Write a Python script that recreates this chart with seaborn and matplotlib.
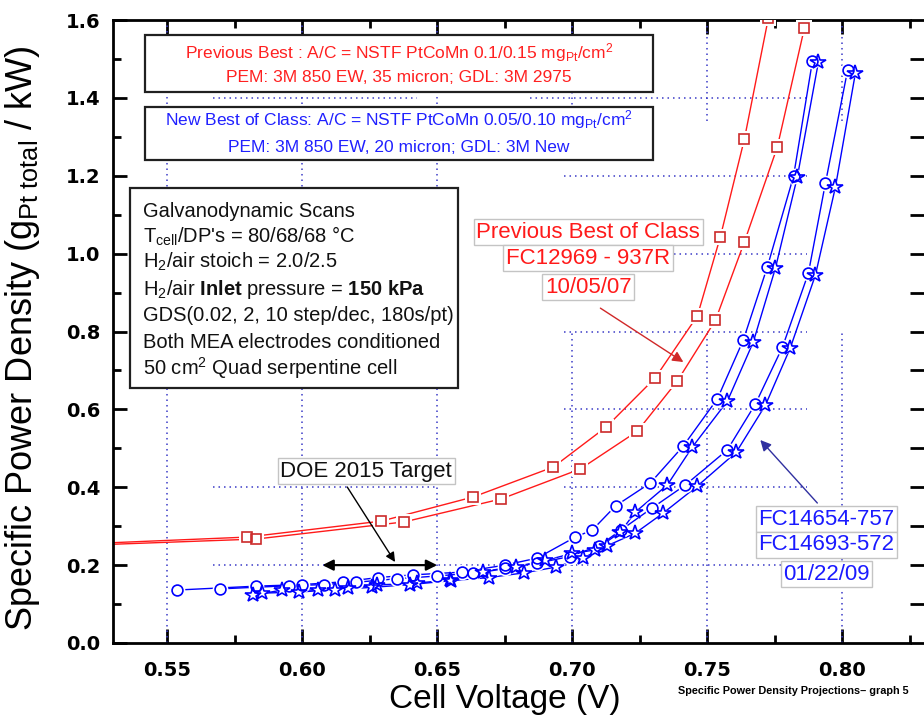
import matplotlib
matplotlib.use("Agg")
import matplotlib.pyplot as plt
import seaborn as sns
from matplotlib.patches import Rectangle
from matplotlib.ticker import MultipleLocator, FixedLocator

# ---- data -------------------------------------------------------------
# Previous best of class, FC12969-937R (two scans)
prev1_v = [0.500, 0.5796, 0.6293, 0.6633, 0.6930, 0.7126, 0.7307, 0.7463, 0.7548, 0.7637, 0.7726]
prev1_y = [0.249, 0.272, 0.313, 0.375, 0.452, 0.555, 0.681, 0.840, 1.043, 1.294, 1.606]
prev2_v = [0.500, 0.5830, 0.6378, 0.6737, 0.7030, 0.7241, 0.7389, 0.7530, 0.7637, 0.7759, 0.7859]
prev2_y = [0.246, 0.267, 0.311, 0.370, 0.447, 0.544, 0.673, 0.829, 1.030, 1.274, 1.579]

# New best of class, FC14654-757 (circles / stars)
new1c_v = [0.5537, 0.5830, 0.6000, 0.6150, 0.6280, 0.6410, 0.6590, 0.6750, 0.6870, 0.7011,
           0.7074, 0.7160, 0.7289, 0.7411, 0.7537, 0.7633, 0.7722, 0.7819, 0.7889]
new1c_y = [0.136, 0.146, 0.150, 0.157, 0.168, 0.175, 0.182, 0.200, 0.218, 0.272,
           0.290, 0.352, 0.411, 0.506, 0.627, 0.778, 0.966, 1.199, 1.495]
new1s_v = [0.5820, 0.5926, 0.6060, 0.6170, 0.6278, 0.6426, 0.6548, 0.6670, 0.6790, 0.6900,
           0.7000, 0.7085, 0.7178, 0.7233, 0.7352, 0.7444, 0.7574, 0.7670, 0.7752, 0.7833, 0.7911]
new1s_y = [0.123, 0.136, 0.136, 0.141, 0.149, 0.154, 0.162, 0.182, 0.196, 0.212,
           0.230, 0.239, 0.285, 0.336, 0.406, 0.503, 0.621, 0.773, 0.963, 1.197, 1.492]

# New best of class, FC14693-572 (circles / stars)
new2c_v = [0.5696, 0.5950, 0.6080, 0.6200, 0.6350, 0.6500, 0.6633, 0.6750, 0.6870, 0.6990,
           0.7100, 0.7180, 0.7296, 0.7419, 0.7574, 0.7678, 0.7778, 0.7874, 0.7937, 0.8019]
new2c_y = [0.139, 0.147, 0.150, 0.156, 0.165, 0.172, 0.180, 0.192, 0.205, 0.222,
           0.250, 0.290, 0.347, 0.406, 0.496, 0.614, 0.760, 0.950, 1.181, 1.471]
new2s_v = [0.5850, 0.5990, 0.6120, 0.6260, 0.6400, 0.6550, 0.6690, 0.6820, 0.6940, 0.7040,
           0.7130, 0.7233, 0.7337, 0.7463, 0.7607, 0.7715, 0.7807, 0.7900, 0.7974, 0.8048]
new2s_y = [0.128, 0.131, 0.137, 0.143, 0.150, 0.160, 0.168, 0.180, 0.195, 0.218,
           0.250, 0.282, 0.334, 0.403, 0.490, 0.611, 0.758, 0.945, 1.171, 1.464]

x_ticks = [0.55, 0.60, 0.65, 0.70, 0.75, 0.80]
x_tick_labels = ["0.55", "0.60", "0.65", "0.70", "0.75", "0.80"]
y_ticks = [0.0, 0.2, 0.4, 0.6, 0.8, 1.0, 1.2, 1.4, 1.6]
y_tick_labels = ["0.0", "0.2", "0.4", "0.6", "0.8", "1.0", "1.2", "1.4", "1.6"]

doe_target_y = 0.2
doe_target_v = (0.6075, 0.650)

# ---- style ------------------------------------------------------------
sns.set_theme(style="white")
plt.rcParams["font.family"] = ["Liberation Sans", "DejaVu Sans"]
plt.rcParams["mathtext.fontset"] = "custom"
plt.rcParams["mathtext.rm"] = "Liberation Sans"
plt.rcParams["mathtext.bf"] = "Liberation Sans:bold"
plt.rcParams["mathtext.it"] = "Liberation Sans:italic"
plt.rcParams["mathtext.default"] = "regular"

RED_LINE = "#ff1a1a"
RED_MARK = "#cc2a2a"
BLUE = "#0000ff"
GRID = "#3c3cc8"

fig = plt.figure(figsize=(9.24, 7.19), dpi=100)
ax = fig.add_axes([113 / 924, 1 - 643 / 719, (910 - 113) / 924, (643 - 20) / 719])
ax.set_facecolor("white")

ax.set_xlim(0.53, 0.825)
ax.set_ylim(0.0, 1.6)

# dotted grid segments
gdot = dict(color=GRID, lw=1.1, linestyle=(0, (1, 2.6)), zorder=1)
for xv in (0.55, 0.60, 0.65):
    ax.vlines(xv, 0.0, 1.6, **gdot)
for xv in (0.70, 0.75, 0.80):
    ax.vlines(xv, 0.0, 0.80, **gdot)
    ax.vlines(xv, 1.34, 1.6, **gdot)
ax.hlines(1.4, 0.567, 0.6425, **gdot)
ax.hlines(1.4, 0.6844, 0.787, **gdot)
for yv in (0.6, 0.8, 1.0, 1.2):
    ax.hlines(yv, 0.697, 0.787, **gdot)
ax.hlines(0.4, 0.567, 0.650, **gdot)
ax.hlines(0.4, 0.697, 0.787, **gdot)
ax.hlines(0.2, 0.567, 0.780, **gdot)

series = [
    (prev1_v, prev1_y, RED_LINE, RED_MARK, "s", 7.5),
    (prev2_v, prev2_y, RED_LINE, RED_MARK, "s", 7.5),
    (new1c_v, new1c_y, BLUE, BLUE, "o", 7.8),
    (new1s_v, new1s_y, BLUE, BLUE, "*", 11.5),
    (new2c_v, new2c_y, BLUE, BLUE, "o", 7.8),
    (new2s_v, new2s_y, BLUE, BLUE, "*", 11.5),
]

# connecting lines
for v, y, lc, mc, mk, ms in series:
    sns.lineplot(x=v, y=y, color=lc, lw=1.0, sort=False, estimator=None,
                 ax=ax, zorder=2)
# white halos break the lines around each symbol
for v, y, lc, mc, mk, ms in series:
    sns.lineplot(x=v, y=y, color="white", linestyle="none", marker=mk,
                 markersize=ms + 3.5, markerfacecolor="white",
                 markeredgecolor="white", markeredgewidth=0,
                 sort=False, estimator=None, ax=ax, zorder=3)
# open symbols
for v, y, lc, mc, mk, ms in series:
    sns.lineplot(x=v, y=y, color=mc, linestyle="none", marker=mk,
                 markersize=ms, markerfacecolor="none",
                 markeredgecolor=mc, markeredgewidth=1.2,
                 sort=False, estimator=None, ax=ax, zorder=4)

# ---- axes decoration --------------------------------------------------
ax.xaxis.set_major_locator(FixedLocator(x_ticks))
ax.set_xticklabels(x_tick_labels)
ax.yaxis.set_major_locator(FixedLocator(y_ticks))
ax.set_yticklabels(y_tick_labels)
ax.xaxis.set_minor_locator(MultipleLocator(0.025))
ax.yaxis.set_minor_locator(MultipleLocator(0.1))
ax.tick_params(which="both", direction="in", top=True, right=False,
               bottom=True, left=True, width=2, color="black")
ax.tick_params(which="major", length=10)
ax.tick_params(which="minor", length=6)
ax.tick_params(axis="x", which="major", pad=13)
ax.tick_params(axis="y", which="major", pad=9)
for lab in ax.get_xticklabels() + ax.get_yticklabels():
    lab.set_family("DejaVu Sans")
    lab.set_fontweight("bold")
    lab.set_fontsize(14)
    lab.set_color("black")

for side in ("left", "bottom", "top"):
    ax.spines[side].set_linewidth(2)
    ax.spines[side].set_color("black")
ax.spines["right"].set_visible(False)

# right-hand tick marks without a spine line
sec = ax.secondary_yaxis("right")
sec.yaxis.set_major_locator(FixedLocator(y_ticks))
sec.yaxis.set_minor_locator(MultipleLocator(0.1))
sec.tick_params(which="both", direction="out", width=2, color="black",
                labelright=False)
sec.tick_params(which="major", length=13)
sec.tick_params(which="minor", length=11)
sec.spines["right"].set_visible(False)

ax.set_xlabel("Cell Voltage (V)", fontsize=24, color="black", va="top")
ax.xaxis.set_label_coords(0.492, -0.066)
ax.set_ylabel(r"Specific Power Density (g$_{Pt\ total}$ / kW)", fontsize=26,
              color="black")
ax.yaxis.set_label_coords(-0.089, 0.49)

# ---- information boxes ------------------------------------------------
def frame(x0, y0, x1, y1, ec="#202020", lw=1.6):
    ax.add_patch(Rectangle((x0, y0), x1 - x0, y1 - y0, transform=ax.transAxes,
                           facecolor="white", edgecolor=ec, lw=lw, zorder=6,
                           clip_on=False))

frame(0.0402, 0.8844, 0.6775, 0.9759)
ax.text(0.3588, 0.947, r"Previous Best : A/C = NSTF PtCoMn 0.1/0.15 mg$_{Pt}$/cm$^2$",
        transform=ax.transAxes, ha="center", va="center", fontsize=12.5,
        color="#ff2020", zorder=7)
ax.text(0.3588, 0.9085, "PEM: 3M 850 EW, 35 micron; GDL: 3M 2975",
        transform=ax.transAxes, ha="center", va="center", fontsize=12.5,
        color="#ff2020", zorder=7)

frame(0.0402, 0.7753, 0.6775, 0.8604)
ax.text(0.3588, 0.8395, r"New Best of Class: A/C = NSTF PtCoMn 0.05/0.10 mg$_{Pt}$/cm$^2$",
        transform=ax.transAxes, ha="center", va="center", fontsize=12.5,
        color="#2020ff", zorder=7)
ax.text(0.3588, 0.7961, "PEM: 3M 850 EW, 20 micron; GDL: 3M New",
        transform=ax.transAxes, ha="center", va="center", fontsize=12.5,
        color="#2020ff", zorder=7)

frame(0.0213, 0.4093, 0.4329, 0.7303)
cond_lines = [
    "Galvanodynamic Scans",
    r"T$_{cell}$/DP's = 80/68/68 °C",
    r"H$_2$/air stoich = 2.0/2.5",
    r"H$_2$/air $\mathbf{Inlet}$ pressure = $\mathbf{150\ kPa}$",
    "GDS(0.02, 2, 10 step/dec, 180s/pt)",
    "Both MEA electrodes conditioned",
    r"50 cm$^2$ Quad serpentine cell",
]
cond_y = [0.6934, 0.6533, 0.6116, 0.5682, 0.5249, 0.4831, 0.4414]
for txt, yy in zip(cond_lines, cond_y):
    ax.text(0.0376, yy, txt, transform=ax.transAxes, ha="left", va="center",
            fontsize=14.5, color="#111111", zorder=7)

# ---- callouts ---------------------------------------------------------
tag = dict(boxstyle="square,pad=0.12", facecolor="white", edgecolor="#c4c4c4", lw=1.0)

for txt, yy in zip(["Previous Best of Class", "FC12969 - 937R", "10/05/07"],
                   [1.0555, 0.9887, 0.9142]):
    ax.text(0.7059, yy, txt, ha="center", va="center", fontsize=16,
            color="#ff1a1a", bbox=tag, zorder=7)
ax.annotate("", xy=(0.7411, 0.7216), xytext=(0.7104, 0.860),
            arrowprops=dict(arrowstyle="-|>", color="#d02828", lw=1.0,
                            mutation_scale=16, shrinkA=0, shrinkB=0), zorder=7)

for txt, yy in zip(["FC14654-757", "FC14693-572", "01/22/09"],
                   [0.3184, 0.2517, 0.1772]):
    ax.text(0.7941, yy, txt, ha="center", va="center", fontsize=16,
            color="#1a1aff", bbox=tag, zorder=7)
ax.annotate("", xy=(0.7696, 0.5213), xytext=(0.7907, 0.3595),
            arrowprops=dict(arrowstyle="-|>", color="#3030a0", lw=1.0,
                            mutation_scale=16, shrinkA=0, shrinkB=0), zorder=7)

ax.text(0.6237, 0.4417, "DOE 2015 Target", ha="center", va="center",
        fontsize=16, color="#111111", bbox=tag, zorder=7)
ax.annotate("", xy=(0.6344, 0.208), xytext=(0.6167, 0.4006),
            arrowprops=dict(arrowstyle="-|>", color="black", lw=1.0,
                            mutation_scale=14, shrinkA=0, shrinkB=0), zorder=7)
ax.annotate("", xy=(doe_target_v[0], doe_target_y), xytext=(doe_target_v[1], doe_target_y),
            arrowprops=dict(arrowstyle="<|-|>", color="black", lw=1.6,
                            mutation_scale=16, shrinkA=0, shrinkB=0), zorder=7)

fig.text(793 / 924, 1 - 691 / 719, "Specific Power Density Projections\u2013 graph 5",
         ha="center", va="center", fontsize=7.8, fontweight="bold", color="black")

fig.savefig("out.png", dpi=100, facecolor="white")
